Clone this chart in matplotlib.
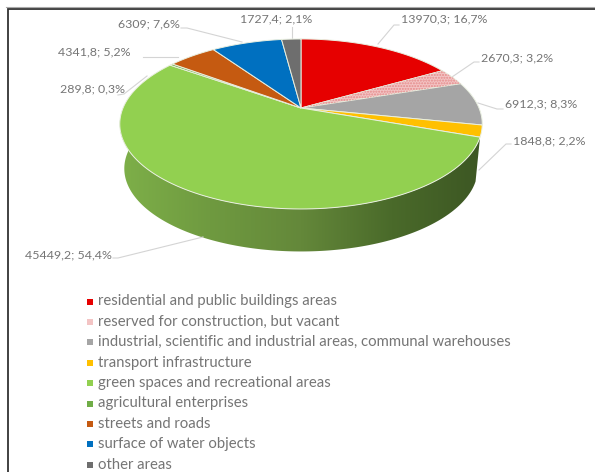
#!/usr/bin/env python3
"""Pie in fake 3D perspective, land use areas, with legend below."""
import numpy as np
import matplotlib
matplotlib.use("Agg")
import matplotlib.pyplot as plt
from matplotlib.colors import LinearSegmentedColormap
from matplotlib.patches import Polygon

categories = ["residential and public buildings areas",
              "reserved for construction, but vacant",
              "industrial, scientific and industrial areas, communal warehouses",
              "transport infrastructure",
              "green spaces and recreational areas",
              "agricultural enterprises",
              "streets and roads",
              "surface of water objects",
              "other areas"]
areas = [13970.3, 2670.3, 6912.3, 1848.8, 45449.2, 289.8, 4341.8, 6309, 1727.4]
labels = ["13970,3; 16,7%", "2670,3; 3,2%", "6912,3; 8,3%", "1848,8; 2,2%",
          "45449,2; 54,4%", "289,8; 0,3%", "4341,8; 5,2%", "6309; 7,6%",
          "1727,4; 2,1%"]
colors = ["#e60000", "#f3c4c4", "#a5a5a5", "#ffc000", "#92d050",
          "#70ad47", "#c55a11", "#0070c0", "#6e6e6e"]
GREEN = 4  # index of the big slice, the only one with a visible wall

# label anchor (x, y) and leader line (from label to pie edge), in pixels
label_xy = [(401, 19), (481, 58), (505, 104), (513, 141),
            (25, 255), (60, 89), (58, 52), (118, 24), (240, 19)]
leaders = [[(399, 25), (394, 25), (378, 44)],
           [(479, 62), (474, 62), (452, 77)],
           [(503, 109), (497, 109), (478, 103)],
           [(511, 144), (506, 144), (479, 170)],
           [(113, 258), (118, 258), (203, 237)],
           [(118, 95), (124, 94), (147, 76)],
           [(143, 57), (149, 57), (178, 57)],
           [(181, 28), (187, 28), (242, 42)],
           [(292, 27), (292, 27), (292, 39)]]

CX, CY = 301.0, 108.0
K = 0.188
W, H = 178.0, 82.0
WALL_DROP, WALL_SCALE = 45.0, 0.975
TEXT = "#757575"

plt.rcParams["font.family"] = ["Lato", "DejaVu Sans"]


def project(theta, drop=0.0, scale=1.0):
    # theta clockwise from 12 o'clock, circle seen in perspective
    xu, yu = np.sin(theta), np.cos(theta)
    d = 1 + K * yu
    return CX + scale * W * xu / d, CY + drop - scale * H * yu / d


shares = np.array(areas) / sum(areas)
edges = np.concatenate([[0], np.cumsum(shares)]) * 2 * np.pi

fig = plt.figure(figsize=(5.95, 4.72), dpi=100)
ax = fig.add_axes([0, 0, 1, 1])
ax.set_xlim(0, 595)
ax.set_ylim(472, 0)
ax.axis("off")

# side wall of the green slice, shaded left to right with a gradient
wall_cmap = LinearSegmentedColormap.from_list(
    "wall", ["#3c5623", "#4a6a2a", "#64883a", "#6f9a40", "#7eb049"])
t = np.linspace(edges[GREEN], 3 * np.pi / 2 + 0.02, 200)
xt, yt = project(t)
xb, yb = project(t, WALL_DROP, WALL_SCALE)
wall = Polygon(np.r_[np.c_[xt, yt], np.c_[xb, yb][::-1]], closed=True,
               fc="none", ec="none")
ax.add_patch(wall)
img = ax.imshow(np.linspace(1, 0, 256)[None, :], cmap=wall_cmap, aspect="auto",
                extent=(118, 484, 260, 120), zorder=1)
img.set_clip_path(wall)
ax.set_xlim(0, 595)
ax.set_ylim(472, 0)

# top face
for i, (c0, c1) in enumerate(zip(edges[:-1], edges[1:])):
    t = np.linspace(c0, c1, 120)
    x, y = project(t)
    pts = np.r_[[[CX, CY]], np.c_[x, y]]
    ax.add_patch(Polygon(pts, closed=True, fc=colors[i], ec="#e9efe0", lw=0.7,
                         zorder=2))
    if i == 1:
        ax.add_patch(Polygon(pts, closed=True, fc="none", ec="#e58a8a", lw=0,
                             hatch="......", zorder=2.1))

# labels and leaders
for txt, (lx, ly), line in zip(labels, label_xy, leaders):
    ax.text(lx, ly, txt, fontsize=8.9, color=TEXT, va="center", ha="left",
            zorder=4)
    ax.plot(*zip(*line), color="#d4d4d4", lw=0.8, zorder=1.5)

# legend, by hand so spacing follows the picture
for i, name in enumerate(categories):
    y = 301.5 + i * 20.4
    ax.scatter([90], [y], marker="s", s=24, color=colors[i], lw=0, zorder=3)
    ax.text(98, y, name, fontsize=10.7, color=TEXT, va="center", ha="left")

# frame left from the screenshot
ax.plot([7.5, 7.5, 595], [472, 8.5, 8.5], color="#333333", lw=1.3,
        solid_joinstyle="miter", zorder=5)
ax.plot([6, 595], [7, 7], color="#aaaaaa", lw=0.8, zorder=5)

fig.savefig("out.png", dpi=100)
plt.close(fig)
